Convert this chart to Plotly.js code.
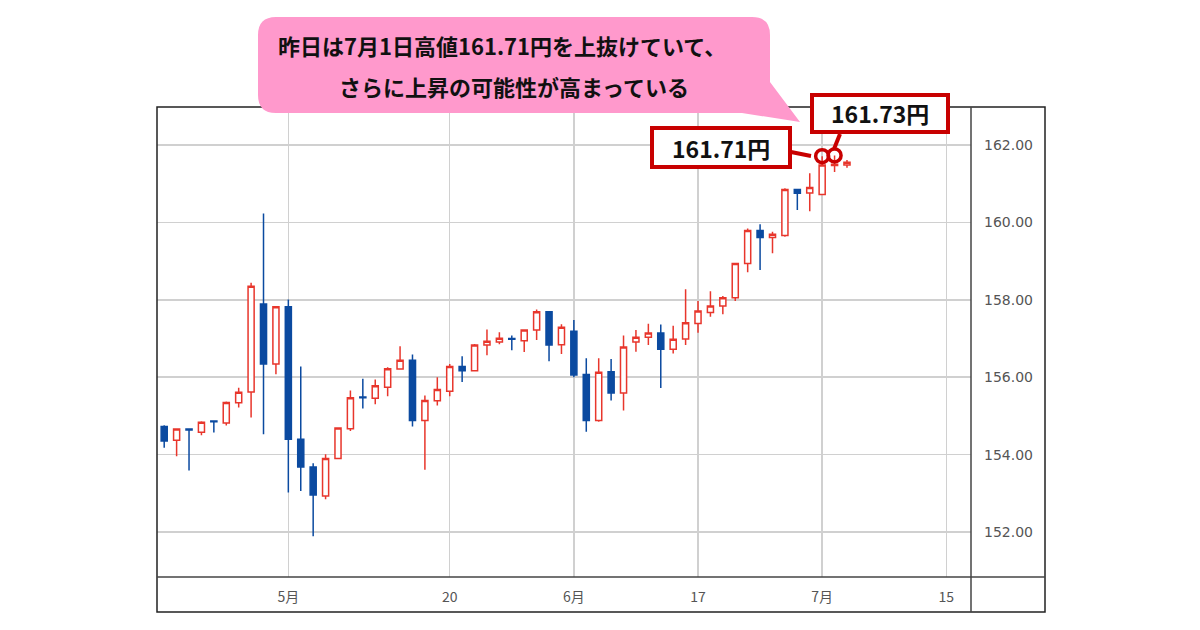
<!DOCTYPE html>
<html>
<head>
<meta charset="utf-8">
<script src="https://cdn.plot.ly/plotly-3.0.1.min.js"></script>
<style>
html,body{margin:0;padding:0;background:#ffffff;}
#chart{width:1200px;height:630px;}
</style>
</head>
<body>
<div id="chart"></div>
<script>
// ---- data (USD/JPY daily) ----
const dates = [
 '2024-04-17','2024-04-18','2024-04-19','2024-04-22','2024-04-23','2024-04-24','2024-04-25','2024-04-26','2024-04-29','2024-04-30',
 '2024-05-01','2024-05-02','2024-05-03','2024-05-06','2024-05-07','2024-05-08','2024-05-09','2024-05-10','2024-05-13','2024-05-14',
 '2024-05-15','2024-05-16','2024-05-17','2024-05-20','2024-05-21','2024-05-22','2024-05-23','2024-05-24','2024-05-27','2024-05-28',
 '2024-05-29','2024-05-30','2024-05-31','2024-06-03','2024-06-04','2024-06-05','2024-06-06','2024-06-07','2024-06-10','2024-06-11',
 '2024-06-12','2024-06-13','2024-06-14','2024-06-17','2024-06-18','2024-06-19','2024-06-20','2024-06-21','2024-06-24','2024-06-25',
 '2024-06-26','2024-06-27','2024-06-28','2024-07-01','2024-07-02','2024-07-03'
];
const openP = [
 154.73,154.37,154.66,154.58,154.87,154.82,155.34,155.62,157.89,156.34,
 157.82,154.40,153.68,152.93,153.90,154.67,155.49,155.46,155.74,156.21,
 156.44,154.88,155.39,155.64,156.28,156.17,156.83,156.91,157.00,156.94,
 157.22,157.69,156.84,157.19,156.07,154.88,156.14,155.59,156.91,157.03,
 157.14,156.72,156.99,157.39,157.67,157.84,158.05,158.94,159.79,159.61,
 159.66,160.85,160.76,160.72,161.47,161.48
];
const highP = [
 154.76,154.68,154.67,154.86,154.89,155.37,155.73,158.44,160.23,157.84,
 158.01,156.28,153.78,154.01,154.71,155.66,155.96,155.94,156.26,156.80,
 156.59,155.53,156.00,156.34,156.54,156.86,157.23,157.16,157.08,157.23,
 157.75,157.70,157.37,157.48,156.49,156.49,156.47,157.08,157.22,157.38,
 157.36,157.33,158.27,157.97,158.22,158.10,158.96,159.84,159.95,159.76,
 160.88,160.87,161.27,161.71,161.73,161.61
];
const lowP = [
 154.18,153.96,153.59,154.50,154.57,154.75,155.22,154.96,154.53,156.08,
 153.02,153.06,151.89,152.85,153.88,154.61,155.19,155.30,155.51,156.20,
 154.73,153.61,155.27,155.51,155.88,156.17,156.57,156.85,156.70,156.65,
 156.96,156.41,156.60,156.00,154.59,154.85,155.40,155.14,156.66,156.83,
 155.72,156.61,156.83,157.15,157.56,157.63,157.97,158.71,158.77,159.20,
 159.63,160.32,160.29,160.70,161.30,161.41
];
const closeP = [
 154.35,154.66,154.64,154.84,154.85,155.35,155.61,158.35,156.34,157.82,
 154.40,153.68,152.96,153.90,154.69,155.47,155.47,155.78,156.22,156.44,
 154.88,155.40,155.68,156.28,156.17,156.83,156.93,157.01,156.98,157.22,
 157.69,156.83,157.29,156.06,154.88,156.13,155.59,156.78,157.03,157.14,
 156.72,156.98,157.41,157.71,157.84,158.05,158.94,159.79,159.61,159.69,
 160.85,160.75,160.90,161.48,161.50,161.55
];
const tickDates = ['2024-05-01','2024-05-20','2024-06-03','2024-06-17','2024-07-01','2024-07-15'];
const tickText = ['5月','20','6月','17','7月','15'];
const yTicks = [152,154,156,158,160,162];
const calloutLines = ['昨日は7月1日高値161.71円を上抜けていて、','さらに上昇の可能性が高まっている'];
const markDates = ['2024-07-01','2024-07-02'];
const markHighs = [161.71, 161.73];
const markLabels = ['161.71円','161.73円'];

// ---- helpers (layout only) ----
const noon = d => d + ' 12:00';
const L = 157, R = 971, T = 107, B = 577;
const px = x => (x - L) / (R - L);
const py = y => (B - y) / (B - T);

const RED = '#e8362c';
const BLUE = '#0b4aa0';
const BOXRED = '#c80000';

const trace = {
  type: 'candlestick',
  x: dates.map(noon),
  open: openP, high: highP, low: lowP, close: closeP,
  increasing: {line: {color: RED, width: 1.5}, fillcolor: '#ffffff'},
  decreasing: {line: {color: BLUE, width: 1.5}, fillcolor: BLUE},
  whiskerwidth: 0,
  hoverinfo: 'skip',
  showlegend: false
};

// callout path (pink speech bubble)
const r = 18;
const bx0 = 258, bx1 = 770, by0 = 17, by1 = 113;
const P = (x, y) => px(x).toFixed(5) + ',' + py(y).toFixed(5);
const bubblePath =
  'M' + P(bx0 + r, by0) +
  ' L' + P(bx1 - r, by0) +
  ' Q' + P(bx1, by0) + ' ' + P(bx1, by0 + r) +
  ' L' + P(bx1, 82) +
  ' L' + P(800, 122) +
  ' L' + P(742, by1) +
  ' L' + P(bx0 + r, by1) +
  ' Q' + P(bx0, by1) + ' ' + P(bx0, by1 - r) +
  ' L' + P(bx0, by0 + r) +
  ' Q' + P(bx0, by0) + ' ' + P(bx0 + r, by0) + ' Z';

const shapes = [
  // frame
  {type:'rect', xref:'paper', yref:'paper', x0:px(157), x1:px(1045), y0:py(612), y1:py(107),
   line:{color:'#222', width:1.5}, fillcolor:'rgba(0,0,0,0)', layer:'above'},
  {type:'line', xref:'paper', yref:'paper', x0:px(157), x1:px(1045), y0:py(577), y1:py(577),
   line:{color:'#444', width:1.5}, layer:'above'},
  {type:'line', xref:'paper', yref:'paper', x0:px(971), x1:px(971), y0:py(107), y1:py(612),
   line:{color:'#444', width:1.5}, layer:'above'},
  // callout bubble
  {type:'path', xref:'paper', yref:'paper', path: bubblePath, fillcolor:'#ff99cc',
   line:{width:0}, layer:'above'},
  // label boxes
  {type:'rect', xref:'paper', yref:'paper', x0:px(652), x1:px(790), y0:py(167), y1:py(128),
   line:{color:BOXRED, width:4}, fillcolor:'#ffffff', layer:'above'},
  {type:'rect', xref:'paper', yref:'paper', x0:px(812), x1:px(948), y0:py(132), y1:py(95),
   line:{color:BOXRED, width:4}, fillcolor:'#ffffff', layer:'above'},
  // connectors
  {type:'line', xref:'paper', yref:'paper', x0:px(791), y0:py(152), x1:px(811), y1:py(156),
   line:{color:BOXRED, width:4}, layer:'above'},
  {type:'line', xref:'paper', yref:'paper', x0:px(840), y0:py(134), x1:px(834), y1:py(149),
   line:{color:BOXRED, width:4}, layer:'above'}
];
// circles around the highs
markDates.forEach((d, i) => {
  shapes.push({type:'circle', xref:'x', yref:'y', xsizemode:'pixel', ysizemode:'pixel',
    xanchor: noon(d), yanchor: markHighs[i], x0:-6.5, x1:6.5, y0:-6.5, y1:6.5,
    line:{color:BOXRED, width:3.5}, fillcolor:'rgba(0,0,0,0)', layer:'above'});
});

const textFont = {family:'"Noto Sans CJK JP", "Noto Sans", sans-serif', size:22, color:'#111'};
const annotations = [
  {xref:'paper', yref:'paper', x:px(502), y:py(45), text:'<b>' + calloutLines[0] + '</b>',
   showarrow:false, font:textFont, xanchor:'center', yanchor:'middle'},
  {xref:'paper', yref:'paper', x:px(514), y:py(86), text:'<b>' + calloutLines[1] + '</b>',
   showarrow:false, font:textFont, xanchor:'center', yanchor:'middle'},
  {xref:'paper', yref:'paper', x:px(721), y:py(148), text:'<b>' + markLabels[0] + '</b>',
   showarrow:false, font:{family:textFont.family, size:23, color:'#111'}, xanchor:'center', yanchor:'middle'},
  {xref:'paper', yref:'paper', x:px(880), y:py(113), text:'<b>' + markLabels[1] + '</b>',
   showarrow:false, font:{family:textFont.family, size:23, color:'#111'}, xanchor:'center', yanchor:'middle'}
];

const layout = {
  width: 1200, height: 630,
  margin: {l: L, r: 1200 - R, t: T, b: 630 - B, pad: 0},
  paper_bgcolor: '#ffffff', plot_bgcolor: '#ffffff',
  showlegend: false,
  xaxis: {
    type: 'date',
    range: ['2024-04-16 22:05', '2024-07-17 11:45'],
    rangebreaks: [{bounds: ['sat', 'mon']}],
    rangeslider: {visible: false},
    tickmode: 'array',
    tickvals: tickDates.map(noon),
    ticktext: tickText,
    showgrid: true, gridcolor: '#d0d0d0', gridwidth: 1.5,
    zeroline: false, showline: false, ticks: '',
    ticklabelstandoff: 10,
    tickfont: {family: '"Noto Sans CJK JP", sans-serif', size: 14, color: '#555'}
  },
  yaxis: {
    side: 'right',
    range: [150.84, 162.98],
    tickmode: 'array',
    tickvals: yTicks,
    tickformat: '.2f',
    showgrid: true, gridcolor: '#d0d0d0', gridwidth: 1.5,
    zeroline: false, showline: false, ticks: '',
    ticklabelstandoff: 12,
    tickfont: {family: '"DejaVu Sans", sans-serif', size: 14, color: '#555'}
  },
  shapes: shapes,
  annotations: annotations
};

Plotly.newPlot('chart', [trace], layout, {staticPlot: true, displayModeBar: false});
</script>
</body>
</html>
